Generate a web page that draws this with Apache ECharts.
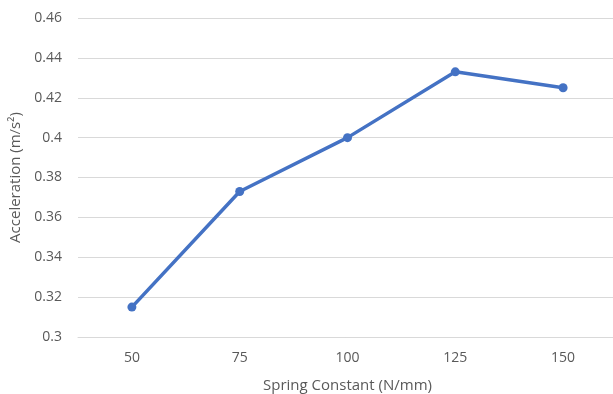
<!DOCTYPE html>
<html>
<head>
<meta charset="utf-8">
<script src="https://cdn.jsdelivr.net/npm/echarts@6/dist/echarts.min.js"></script>
<style>
  html, body { margin: 0; padding: 0; background: #fff; }
  #chart { width: 613px; height: 394px; }
</style>
</head>
<body>
<div id="chart"></div>
<script>
// 数据
const categories = ['50', '75', '100', '125', '150']
const acceleration = [0.315, 0.373, 0.400, 0.433, 0.425]
const yMin = 0.3
const yMax = 0.46
const yStep = 0.02

const labelFont = 'Open Sans, Liberation Sans, sans-serif'

const chart = echarts.init(document.getElementById('chart'))

chart.setOption({
  animation: false,
  grid: {
    left: 78,
    width: 539,
    top: 18,
    bottom: 57,
    outerBoundsMode: 'none'
  },
  xAxis: {
    type: 'category',
    data: categories,
    name: 'Spring Constant (N/mm)',
    nameLocation: 'middle',
    nameGap: 41,
    nameTextStyle: { color: '#595959', fontSize: 15, fontFamily: labelFont },
    axisLine: { lineStyle: { color: '#d9d9d9', width: 1 } },
    axisTick: { show: false },
    axisLabel: { color: '#595959', fontSize: 14, fontFamily: labelFont, margin: 14 }
  },
  yAxis: {
    type: 'value',
    min: yMin,
    max: yMax,
    interval: yStep,
    name: 'Acceleration (m/s²)',
    nameLocation: 'middle',
    nameGap: 53,
    nameTextStyle: { color: '#595959', fontSize: 15, fontFamily: labelFont },
    axisLine: { show: false },
    axisTick: { show: false },
    axisLabel: {
      color: '#595959',
      fontSize: 14,
      fontFamily: labelFont,
      margin: 16,
      formatter: v => String(parseFloat(v.toFixed(2)))
    },
    splitLine: { lineStyle: { color: '#d9d9d9', width: 1 } }
  },
  series: [{
    type: 'line',
    data: acceleration,
    symbol: 'circle',
    symbolSize: 9,
    lineStyle: { color: '#4472c4', width: 3.5 },
    itemStyle: { color: '#4472c4' }
  }]
})
</script>
</body>
</html>
